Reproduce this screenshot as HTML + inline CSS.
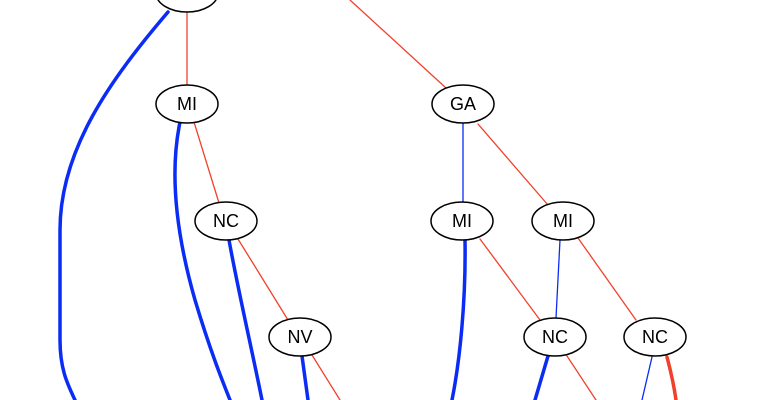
<!DOCTYPE html>
<html><head><style>body{margin:0;background:#fff}svg{display:block}</style></head><body>
<svg width="770" height="400" viewBox="0 0 770 400" xmlns="http://www.w3.org/2000/svg" font-family="Liberation Sans, sans-serif" font-size="18">
<g fill="none" stroke-linecap="round">
<path d="M187 12 L187 86" stroke="#f2412b" stroke-width="1.3"/>
<path d="M350 0 L446 88" stroke="#f2412b" stroke-width="1.3"/>
<path d="M168 12 C110 80 60 150 60 230 L60 340 C60 370 68 385 75 400" stroke="#0a2cf5" stroke-width="3.5"/>
<path d="M180 122 C170 170 175 230 195 300 C210 350 222 380 230 400" stroke="#0a2cf5" stroke-width="3.5"/>
<path d="M194 122 L219 203" stroke="#f2412b" stroke-width="1.3"/>
<path d="M229 240 C238 290 252 350 262 400" stroke="#0a2cf5" stroke-width="3.5"/>
<path d="M238 239 L288 320" stroke="#f2412b" stroke-width="1.3"/>
<path d="M302 356 L308 400" stroke="#0a2cf5" stroke-width="3.5"/>
<path d="M312 355 L340 400" stroke="#f2412b" stroke-width="1.3"/>
<path d="M463 123 L463 202" stroke="#0a2cf5" stroke-width="1.3"/>
<path d="M478 124 L548 205" stroke="#f2412b" stroke-width="1.3"/>
<path d="M465 240 C466 300 460 360 452 400" stroke="#0a2cf5" stroke-width="3.5"/>
<path d="M480 239 L540 320" stroke="#f2412b" stroke-width="1.3"/>
<path d="M560 240 L556 318" stroke="#0a2cf5" stroke-width="1.3"/>
<path d="M578 238 L636 320" stroke="#f2412b" stroke-width="1.3"/>
<path d="M548 356 L535 400" stroke="#0a2cf5" stroke-width="3.5"/>
<path d="M567 356 L596 400" stroke="#f2412b" stroke-width="1.3"/>
<path d="M652 357 L642 400" stroke="#0a2cf5" stroke-width="1.3"/>
<path d="M667 357 C671 372 674 386 676 400" stroke="#f2412b" stroke-width="3.5"/>
</g>
<g fill="#fff" stroke="#000" stroke-width="1.5">
<ellipse cx="187" cy="-7" rx="31" ry="19"/>
<ellipse cx="187" cy="104" rx="31" ry="19"/>
<ellipse cx="463" cy="104" rx="31" ry="19"/>
<ellipse cx="226" cy="221" rx="31" ry="19"/>
<ellipse cx="462" cy="221" rx="31" ry="19"/>
<ellipse cx="563" cy="221" rx="31" ry="19"/>
<ellipse cx="300" cy="337" rx="31" ry="19"/>
<ellipse cx="555" cy="337" rx="31" ry="19"/>
<ellipse cx="655" cy="337" rx="31" ry="19"/>
</g>
<g text-anchor="middle" fill="#000">
<text x="187" y="110">MI</text>
<text x="463" y="110">GA</text>
<text x="226" y="227">NC</text>
<text x="462" y="227">MI</text>
<text x="563" y="227">MI</text>
<text x="300" y="343">NV</text>
<text x="555" y="343">NC</text>
<text x="655" y="343">NC</text>
</g>
</svg>
</body></html>
